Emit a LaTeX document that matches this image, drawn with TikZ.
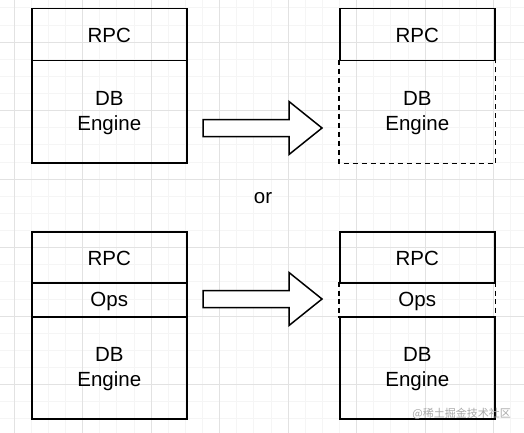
\documentclass[tikz,border=0pt]{standalone}
\usepackage{fontspec}
\setmainfont{Liberation Sans}
\newfontfamily\cjk{Noto Sans CJK SC}
\definecolor{gridmajor}{HTML}{E2E2E2}
\definecolor{gridminor}{HTML}{F5F5F5}
\definecolor{wmark}{HTML}{A8A8A8}
\begin{document}
\begin{tikzpicture}[x=1pt,y=-1pt,
  sec/.style={line width=1.5pt, minimum width=155pt, inner sep=0pt, anchor=north west},
  solidsec/.style={sec, draw},
  txt/.style={font=\fontsize{20.5}{25}\selectfont, align=center, inner sep=0pt},
  dashline/.style={line width=1.5pt, dash pattern=on 5pt off 4pt},
  blockarrow/.style={draw, line width=1.5pt, fill=white, line join=miter}]
\useasboundingbox (0,0) rectangle (524,433);
\fill[white] (0,0) rectangle (524,433);
% grid
\foreach \k in {-1,...,30} {
  \draw[gridminor, line width=0.6pt] ({14+17.125*\k},0) -- ({14+17.125*\k},433);
  \draw[gridminor, line width=0.6pt] (0,{-26.5+17.125*\k}) -- (524,{-26.5+17.125*\k});
}
\foreach \k in {0,...,8} {
  \draw[gridmajor, line width=0.7pt] ({14+68.5*\k},0) -- ({14+68.5*\k},433);
  \draw[gridmajor, line width=0.7pt] (0,{-26.5+68.5*\k}) -- (524,{-26.5+68.5*\k});
}
% top left
\node[solidsec, minimum height=52pt] (rpcA) at (31,8) {};
\node[solidsec, minimum height=102pt] (dbA) at (31,60) {};
\node[txt] (rpcAt) at ([yshift=-1pt]rpcA.center) {RPC};
\node[txt] (dbAt) at ([yshift=-1pt]dbA.center) {DB\\Engine};
% top right
\node[solidsec, minimum height=52pt] (rpcB) at (339,8) {};
\node[sec, minimum height=102pt] (dbB) at (339,60) {};
\node[txt] (rpcBt) at ([yshift=-1pt]rpcB.center) {RPC};
\node[txt] (dbBt) at ([yshift=-1pt]dbB.center) {DB\\Engine};
\draw[dashline] (dbB.north west) -- (dbB.south west) -- (dbB.south east) -- (dbB.north east);
% top arrow
\coordinate (a1) at (203,119.5);
\draw[blockarrow] (a1) -- ++(86,0) -- ++(0,-18) -- ++(33,26.5) -- ++(-33,26.5) -- ++(0,-18) -- ++(-86,0) -- cycle;
% or
\node[txt] (or) at (263,198) {or};
% bottom left
\node[solidsec, minimum height=51pt] (rpcC) at (31,231) {};
\node[solidsec, minimum height=34pt] (opsC) at (31,282) {};
\node[solidsec, minimum height=102pt] (dbC) at (31,316) {};
\node[txt] (rpcCt) at ([yshift=-1.5pt]rpcC.center) {RPC};
\node[txt] (opsCt) at ([yshift=-1.5pt]opsC.center) {Ops};
\node[txt] (dbCt) at ([yshift=-1pt]dbC.center) {DB\\Engine};
% bottom right
\node[solidsec, minimum height=51pt] (rpcD) at (339,231) {};
\node[sec, minimum height=34pt] (opsD) at (339,282) {};
\node[solidsec, minimum height=102pt] (dbD) at (339,316) {};
\node[txt] (rpcDt) at ([yshift=-1.5pt]rpcD.center) {RPC};
\node[txt] (opsDt) at ([yshift=-1.5pt]opsD.center) {Ops};
\node[txt] (dbDt) at ([yshift=-1pt]dbD.center) {DB\\Engine};
\draw[dashline, dash pattern=on 5pt off 3.5pt] (opsD.north west) -- (opsD.south west);
\draw[dashline, dash pattern=on 5pt off 3.5pt] (opsD.north east) -- (opsD.south east);
% bottom arrow
\coordinate (a2) at (203,290.5);
\draw[blockarrow] (a2) -- ++(86,0) -- ++(0,-18) -- ++(33,26.5) -- ++(-33,26.5) -- ++(0,-18) -- ++(-86,0) -- cycle;
% watermark
\node[font=\cjk\fontsize{11}{13}\selectfont, text=wmark, anchor=east, inner sep=0pt] (wm) at (511,414) {@稀土掘金技术社区};
\end{tikzpicture}
\end{document}
